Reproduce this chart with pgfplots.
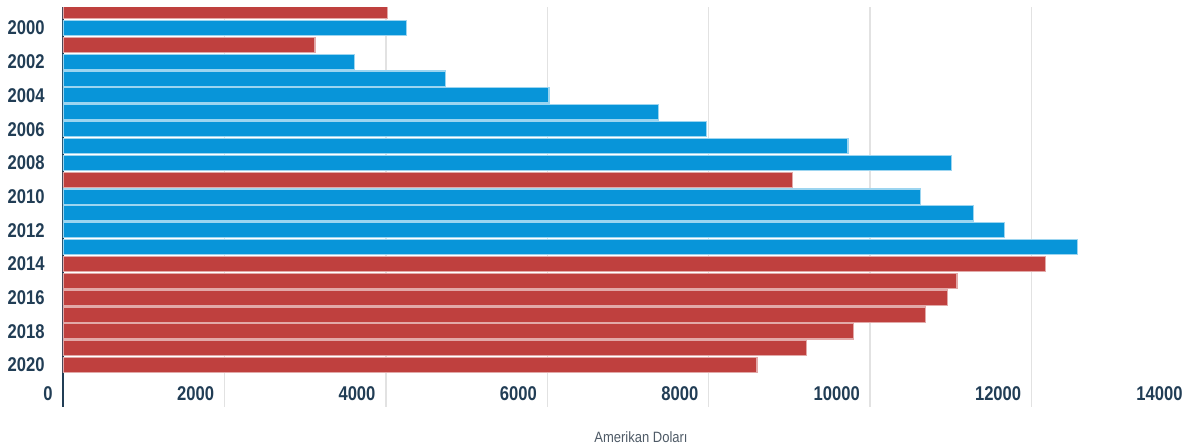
\documentclass[border=0pt]{standalone}
\usepackage{pgfplots}
\pgfplotsset{compat=1.18}
\usepackage{fontspec}
\setmainfont{Liberation Sans}
\definecolor{barblue}{HTML}{0895D9}
\definecolor{barred}{HTML}{BF403E}
\definecolor{lab}{HTML}{213D55}
\definecolor{gridc}{HTML}{E2E2E2}
\definecolor{xlab}{HTML}{4E5A66}
\begin{document}
\begin{tikzpicture}
\begin{axis}[
  scale only axis, width=565pt, height=200pt,
  xmin=0, xmax=14000, ymin=1998.75, ymax=2022.49, y dir=reverse,
  scaled x ticks=false,
  xbar, bar width=7.6pt, bar shift=0pt,
  axis lines=left,
  x axis line style={draw=none},
  y axis line style={-, draw=lab, line width=1pt},
  xtick={0,2000,4000,6000,8000,10000,12000,14000},
  xticklabels={0,2000,4000,6000,8000,10000,12000,14000},
  ytick={2000,2002,2004,2006,2008,2010,2012,2014,2016,2018,2020},
  yticklabels={2000,2002,2004,2006,2008,2010,2012,2014,2016,2018,2020},
  major tick length=0pt,
  xmajorgrids,
  major grid style={draw=gridc, line width=0.75pt},
  x tick label style={anchor=east, inner sep=0pt, xshift=-5pt, yshift=6.5pt,
    font=\fontsize{8.3}{10}\selectfont\bfseries, text=lab, yscale=1.2},
  y tick label style={anchor=east, inner sep=0pt, xshift=-9pt,
    font=\fontsize{8.3}{10}\selectfont\bfseries, text=lab, yscale=1.2},
  xlabel={Amerikan Doları},
  every axis x label/.style={at={(axis description cs:0.5115,0)}, anchor=center,
    yshift=-15pt, font=\fontsize{6.5}{8}\selectfont, text=xlab, yscale=1.15},
]
\addplot[fill=barblue, draw=barblue!40, line width=0.6pt] coordinates {
  (4256,2000) (3616,2002) (4743,2003) (6022,2004) (7377,2005) (7971,2006)
  (9725,2007) (11009,2008) (10622,2010) (11282,2011) (11666,2012) (12573,2013)
};
\addplot[fill=barred, draw=barred!45, line width=0.6pt] coordinates {
  (4021,1999) (3121,2001) (9036,2009) (12169,2014) (11075,2015) (10963,2016)
  (10687,2017) (9796,2018) (9210,2019) (8598,2020)
};
\end{axis}
\pgfresetboundingbox
\path (current axis.south west) ++(-31.5pt,-19pt) rectangle ++(593pt,222.5pt);
\end{tikzpicture}
\end{document}
